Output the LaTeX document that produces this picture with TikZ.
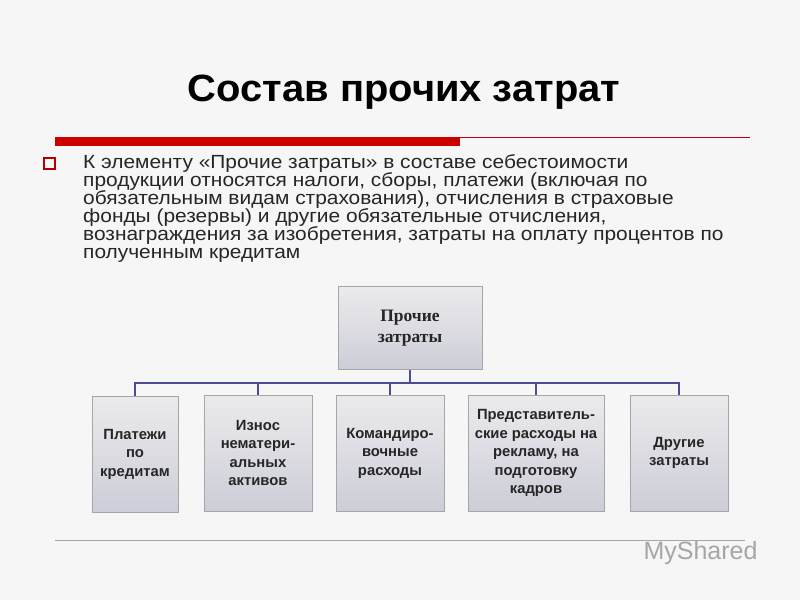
\documentclass[tikz,border=0pt]{standalone}
\usepackage{fontspec}
\setmainfont{Liberation Sans}
\newfontfamily\serifb{Liberation Serif}
\newfontfamily\bodyf[FakeStretch=1.1]{Liberation Sans}
\newfontfamily\titlef[FakeStretch=1.05]{Liberation Sans}
\begin{document}
\begin{tikzpicture}[x=1pt,y=-1pt,
  box/.style={draw=gray!70,line width=0.8pt,top color=blue!6!gray!15,bottom color=blue!12!gray!35,align=center,font=\bfseries\fontsize{14.8}{18.5}\selectfont,text=black!85,inner sep=2pt},
  conn/.style={draw=blue!40!black!70,line width=1.2pt}]
\useasboundingbox (0,0) rectangle (800,600);
\fill[gray!7] (0,0) rectangle (800,600);
\node[font=\titlef\bfseries\fontsize{38}{44}\selectfont] (title) at (404,92) {Состав прочих затрат};
\draw[red!75!black,line width=0.5pt] (455,137) -- (750,137);
\fill[red!80!black] (55,137) rectangle (460,146);
\draw[red!70!black,line width=1.2pt] (44,158) rectangle (55,169);
\node[anchor=north west,align=left,inner sep=0pt,font=\bodyf\fontsize{19}{18}\selectfont,text=black!85] (txt) at (83,154) {К элементу «Прочие затраты» в составе себестоимости\\продукции относятся налоги, сборы, платежи (включая по\\обязательным видам страхования), отчисления в страховые\\фонды (резервы) и другие обязательные отчисления,\\вознаграждения за изобретения, затраты на оплату процентов по\\полученным кредитам};
\node[box,minimum width=144pt,minimum height=83pt,font=\serifb\bfseries\fontsize{17.5}{21}\selectfont] (top) at (410,328) {Прочие\\затраты};
\node[box,minimum width=86pt,minimum height=116pt] (b1) at (135,454) {Платежи\\по\\кредитам};
\node[box,minimum width=108pt,minimum height=116pt] (b2) at (258,453) {Износ\\нематери-\\альных\\активов};
\node[box,minimum width=108pt,minimum height=116pt] (b3) at (390,453) {Командиро-\\вочные\\расходы};
\node[box,minimum width=136pt,minimum height=116pt] (b4) at (536,453) {Представитель-\\ские расходы на\\рекламу, на\\подготовку\\кадров};
\node[box,minimum width=98pt,minimum height=116pt] (b5) at (679,453) {Другие\\затраты};
\coordinate (bus) at (410,383);
\draw[conn] (top.south) -- (bus);
\draw[conn] (b1.north) |- (bus) -| (b5.north);
\foreach \b in {b2,b3,b4} \draw[conn] (\b.north) -- (\b.north |- bus);
\draw[gray!70,line width=0.6pt] (55,540) -- (745,540);
\node[anchor=west,text=gray!70,font=\fontsize{25}{30}\selectfont] (logo) at (640,553) {MyShared};
\end{tikzpicture}
\end{document}
